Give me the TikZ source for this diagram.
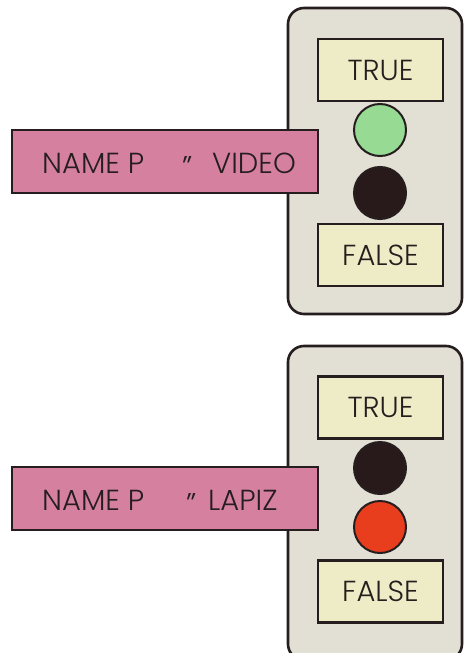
\documentclass[tikz,border=0pt]{standalone}
\usepackage{fontspec}
\setmainfont{Poppins}[UprightFont={* Light}]
\definecolor{pinkfill}{RGB}{214,128,160}
\definecolor{panelfill}{RGB}{226,223,213}
\definecolor{labelfill}{RGB}{238,236,198}
\definecolor{greenlamp}{RGB}{150,218,148}
\definecolor{darklamp}{RGB}{40,26,26}
\definecolor{redlamp}{RGB}{232,62,30}
\definecolor{inkcol}{RGB}{38,30,30}
\tikzset{
  bigtext/.style={font=\fontsize{29}{29}\selectfont, text=inkcol},
  panelbox/.style={draw=inkcol, line width=2.6pt, fill=panelfill, rounded corners=16pt},
  labelbox/.style={draw=inkcol, line width=2.4pt, fill=labelfill, minimum width=125pt, minimum height=62pt, inner sep=0pt, bigtext},
  namebox/.style={draw=inkcol, line width=2.4pt, fill=pinkfill, minimum width=306pt, minimum height=63pt, inner sep=0pt},
  lamp/.style={circle, draw=inkcol, line width=2pt, minimum size=52pt, inner sep=0pt},
  nametext/.style={anchor=base west, inner sep=0pt, bigtext},
  dittotext/.style={anchor=base west, inner sep=0pt, font=\fontsize{30}{30}\selectfont, text=inkcol}
}
\begin{document}
\begin{tikzpicture}[x=1pt,y=-1pt]
\useasboundingbox[fill=white] (0,0) rectangle (464,653);
% top
\draw[panelbox] (288,8) rectangle (462,314);
\node[labelbox] (trueA) at (380.5,70) {TRUE};
\node[lamp, fill=greenlamp] (lampA1) at (380,130) {};
\node[lamp, fill=darklamp] (lampA2) at (380,193) {};
\node[labelbox] (falseA) at (380.5,255) {FALSE};
\node[namebox] (nameA) at (165,161.5) {};
\node[nametext] (nameAt1) at (42,173) {NAME P};
\node[dittotext] (nameAd) at (182,177) {\textquotedblright};
\node[nametext] (nameAt2) at (212,173) {VIDEO};
% bottom
\draw[panelbox] (288,346) rectangle (462,660);
\node[labelbox] (trueB) at (380.5,407.5) {TRUE};
\node[lamp, fill=darklamp] (lampB1) at (380,468) {};
\node[lamp, fill=redlamp] (lampB2) at (380,527) {};
\node[labelbox] (falseB) at (380.5,591.5) {FALSE};
\node[namebox] (nameB) at (165,498.5) {};
\node[nametext] (nameBt1) at (42,510) {NAME P};
\node[dittotext] (nameBd) at (186,514) {\textquotedblright};
\node[nametext] (nameBt2) at (208,510) {LAPIZ};
\end{tikzpicture}
\end{document}
